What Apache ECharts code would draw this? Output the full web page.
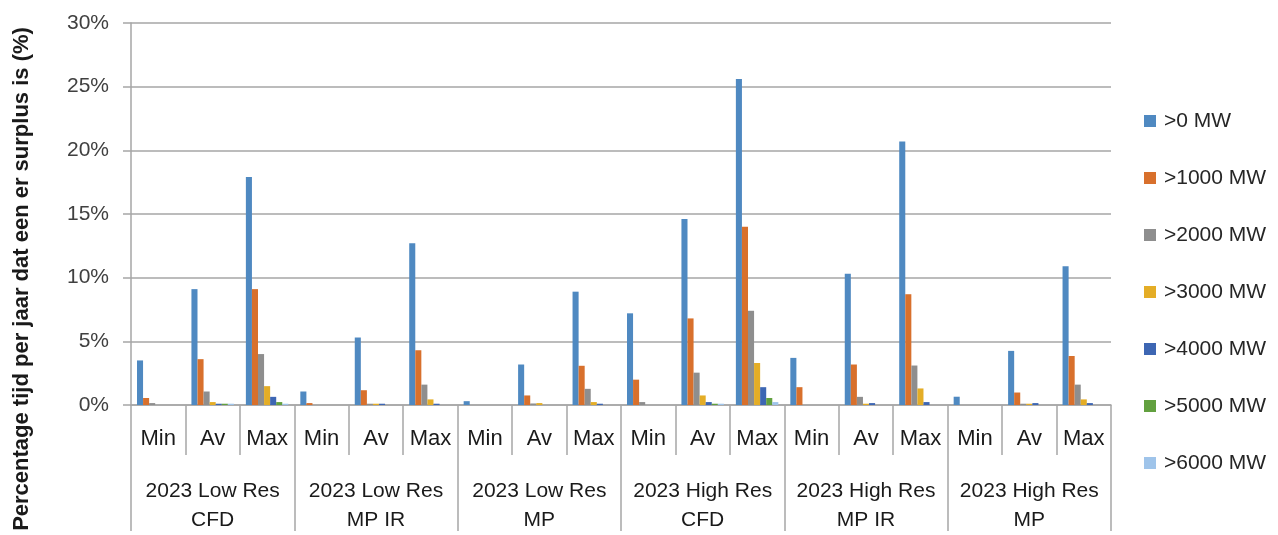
<!DOCTYPE html>
<html>
<head>
<meta charset="utf-8">
<script src="https://cdn.jsdelivr.net/npm/echarts@6/dist/echarts.min.js"></script>
<style>
  html, body { margin: 0; padding: 0; background: #ffffff; }
  #chart { width: 1278px; height: 535px; }
</style>
</head>
<body>
<div id="chart"></div>
<script>
// Scenario groups and the statistic shown per group
const groups = [
  '2023 Low Res\nCFD', '2023 Low Res\nMP IR', '2023 Low Res\nMP',
  '2023 High Res\nCFD', '2023 High Res\nMP IR', '2023 High Res\nMP'
];
const stats = ['Min', 'Av', 'Max'];
const categories = groups.flatMap(() => stats);

// Surplus thresholds (series names)
const seriesNames = ['>0 MW', '>1000 MW', '>2000 MW', '>3000 MW', '>4000 MW', '>5000 MW', '>6000 MW'];

// Share of the year (%) with a surplus above each threshold; 18 values each (Min, Av, Max per group)
const over0    = [3.5, 9.1, 17.9,  1.06, 5.3, 12.7,  0.3, 3.18, 8.9,  7.2, 14.6, 25.6,  3.7, 10.3, 20.7,  0.65, 4.25, 10.9];
const over1000 = [0.55, 3.6, 9.1,  0.15, 1.16, 4.3,  0, 0.75, 3.08,  1.99, 6.8, 14.0,  1.4, 3.18, 8.7,  0, 0.98, 3.85];
const over2000 = [0.15, 1.06, 4.0,  0, 0.1, 1.6,  0, 0.12, 1.27,  0.23, 2.54, 7.4,  0, 0.64, 3.1,  0, 0.1, 1.6];
const over3000 = [0, 0.23, 1.48,  0, 0.1, 0.44,  0, 0.15, 0.23,  0, 0.75, 3.3,  0, 0.1, 1.3,  0, 0.1, 0.44];
const over4000 = [0, 0.1, 0.64,  0, 0.1, 0.1,  0, 0, 0.1,  0, 0.23, 1.4,  0, 0.15, 0.23,  0, 0.15, 0.15];
const over5000 = [0, 0.1, 0.23,  0, 0, 0,  0, 0, 0,  0, 0.1, 0.55,  0, 0, 0,  0, 0, 0];
const over6000 = [0, 0.1, 0.1,  0, 0, 0,  0, 0, 0,  0, 0.1, 0.23,  0, 0, 0,  0, 0, 0];
const seriesData = [over0, over1000, over2000, over3000, over4000, over5000, over6000];

// Y axis scale (%)
const yMin = 0, yMax = 30, yStep = 5;

const colors = ['#4f89c1', '#d8702c', '#8e8e8e', '#e4ad26', '#3d66b3', '#62a03f', '#9fc4ea'];
const lineColor = '#a6a6a6';
const font = 'Liberation Sans, Arial, sans-serif';

const chart = echarts.init(document.getElementById('chart'), null, { renderer: 'canvas' });

chart.setOption({
  animation: false,
  color: colors,
  grid: { left: 131, right: 167, top: 23, bottom: 124, containLabel: false },
  legend: {
    orient: 'vertical',
    left: 1139,
    top: 104,
    itemWidth: 12,
    itemHeight: 12,
    itemGap: 33,
    icon: 'rect',
    data: seriesNames,
    textStyle: { fontFamily: font, fontSize: 21, color: '#262626', lineHeight: 24, padding: [0, 0, 0, 3] }
  },
  xAxis: [
    {
      type: 'category',
      data: categories,
      position: 'bottom',
      axisLine: { show: true, lineStyle: { color: lineColor, width: 1.5 } },
      axisTick: { show: true, interval: 0, length: 50, lineStyle: { color: lineColor, width: 1.5 } },
      axisLabel: { interval: 0, margin: 23, fontFamily: font, fontSize: 22, color: '#1a1a1a', lineHeight: 22 },
      splitLine: { show: false }
    },
    {
      type: 'category',
      data: groups,
      position: 'bottom',
      axisLine: { show: false },
      axisTick: { show: true, interval: 0, length: 126, lineStyle: { color: lineColor, width: 1.5 } },
      axisLabel: { interval: 0, margin: 72, fontFamily: font, fontSize: 21, color: '#1a1a1a', lineHeight: 29 },
      splitLine: { show: false }
    }
  ],
  yAxis: {
    type: 'value',
    min: yMin,
    max: yMax,
    interval: yStep,
    axisLine: { show: true, lineStyle: { color: lineColor, width: 1.5 } },
    axisTick: { show: true, length: 8, lineStyle: { color: lineColor, width: 1.5 } },
    axisLabel: { formatter: '{value}%', margin: 22, fontFamily: font, fontSize: 21, color: '#404040' },
    splitLine: { show: true, lineStyle: { color: lineColor, width: 1.5 } }
  },
  graphic: [
    {
      type: 'text',
      x: 22,
      y: 279,
      rotation: Math.PI / 2,
      style: {
        text: 'Percentage tijd per jaar dat een er surplus is (%)',
        fontFamily: font,
        fontSize: 22,
        fontWeight: 'bold',
        fill: '#1a1a1a',
        align: 'center',
        verticalAlign: 'middle'
      }
    }
  ],
  series: seriesNames.map((name, i) => ({
    name,
    type: 'bar',
    xAxisIndex: 0,
    data: seriesData[i],
    barGap: '0%',
    barCategoryGap: '22%',
    itemStyle: { color: colors[i] }
  }))
});
</script>
</body>
</html>
